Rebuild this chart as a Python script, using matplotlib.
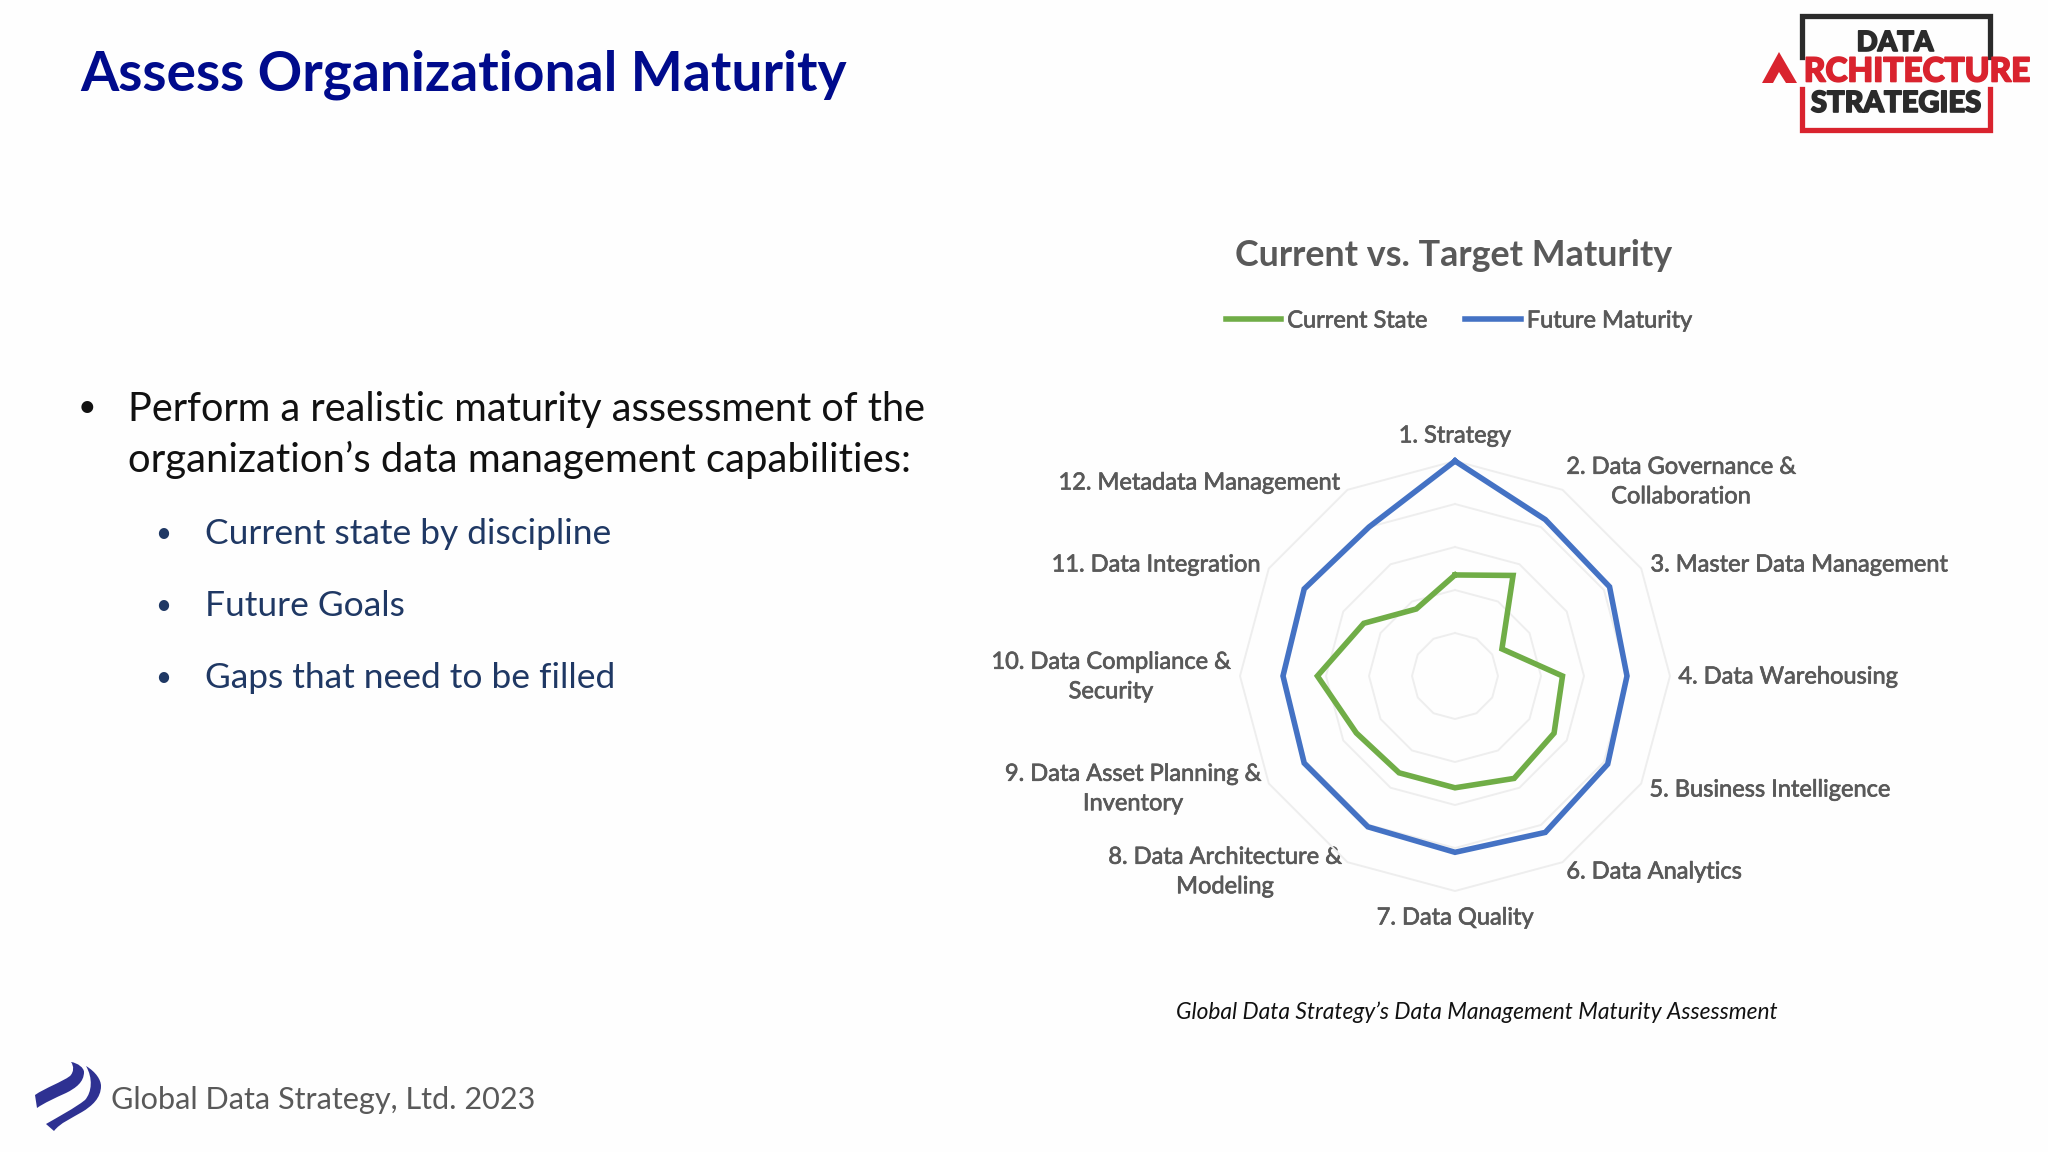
import numpy as np
import matplotlib
matplotlib.use('Agg')
import matplotlib.pyplot as plt
import matplotlib.patheffects as pe
from matplotlib.patches import PathPatch, Polygon
from matplotlib.path import Path

# Chart values
categories = ['1. Strategy', '2. Data Governance &\nCollaboration', '3. Master Data Management',
              '4. Data Warehousing', '5. Business Intelligence', '6. Data Analytics', '7. Data Quality',
              '8. Data Architecture &\nModeling', '9. Data Asset Planning &\nInventory',
              '10. Data Compliance &\nSecurity', '11. Data Integration', '12. Metadata Management']
current_state = [2.35, 2.7, 1.26, 2.5, 2.66, 2.75, 2.6, 2.6, 2.65, 3.2, 2.45, 1.8]
future_maturity = [5.0, 4.2, 4.15, 4.0, 4.1, 4.2, 4.1, 4.05, 4.05, 4.0, 4.05, 4.0]
ring_values = [1, 2, 3, 4, 5]

# Label centres in pixels, same order as categories
label_pos = [(1455, 436), (1681, 482), (1799, 565), (1788, 677), (1770, 790), (1654, 872), (1455, 918),
             (1225, 872), (1133, 789), (1111, 677), (1156, 565), (1199, 483)]

W, H = 2048, 1152
C_X, C_Y = 1455, 676
PX_PER_UNIT = 43
R_MAX = 5.8
GREY = '#595959'

plt.rcParams['font.family'] = ['Lato', 'DejaVu Sans']

fig = plt.figure(figsize=(W / 100, H / 100), dpi=100, facecolor='#fefefe')

# Pixel canvas for the slide itself
bg = fig.add_axes([0, 0, 1, 1])
bg.set_xlim(0, W)
bg.set_ylim(H, 0)
bg.axis('off')

# Radar
half = R_MAX * PX_PER_UNIT
ax = fig.add_axes([(C_X - half) / W, 1 - (C_Y + half) / H, 2 * half / W, 2 * half / H], projection='polar')
ax.set_theta_zero_location('N')
ax.set_theta_direction(-1)
ax.set_ylim(0, R_MAX)
ax.axis('off')
ax.patch.set_alpha(0)

theta = np.linspace(0, 2 * np.pi, len(categories), endpoint=False)
theta_c = np.append(theta, theta[0])
for v in ring_values:
    ax.plot(theta_c, [v] * len(theta_c), color='#eeeeee', lw=1.4, zorder=1)
ax.plot(theta_c, current_state + current_state[:1], color='#70ad47', lw=4, label='Current State', zorder=3,
        solid_joinstyle='miter')
ax.plot(theta_c, future_maturity + future_maturity[:1], color='#4472c4', lw=4, label='Future Maturity', zorder=4,
        solid_joinstyle='miter')

leg = fig.legend(loc='center', bbox_to_anchor=(1459 / W, 1 - 321 / H), ncol=2, frameon=False, fontsize=17,
                 handlelength=2.35, handletextpad=0.25, columnspacing=1.6, labelcolor=GREY)
thick = [pe.withStroke(linewidth=0.5, foreground=GREY)]
for t in leg.get_texts():
    t.set_path_effects(thick)

for name, (x, y) in zip(categories, label_pos):
    bg.text(x, y, name, ha='center', va='center', fontsize=17, color=GREY, linespacing=1.5, path_effects=thick)

bg.text(1454, 256, 'Current vs. Target Maturity', ha='center', va='center', fontsize=25.8, color=GREY, weight='bold')

# Slide text
bg.text(80, 75, 'Assess Organizational Maturity', ha='left', va='center', fontsize=39.7, color='#000b8c', weight='bold')

bg.text(78, 408, '•', ha='left', va='center', fontsize=23, color='#111111')
bg.text(128, 409, 'Perform a realistic maturity assessment of the', ha='left', va='center', fontsize=28.6, color='#111111')
bg.text(128, 460, 'organization’s data management capabilities:', ha='left', va='center', fontsize=28.8, color='#111111')

for y, line in zip([534, 606, 678], ['Current state by discipline', 'Future Goals', 'Gaps that need to be filled']):
    bg.text(155, y, '•', ha='left', va='center', fontsize=20, color='#1f3864')
    bg.text(205, y, line, ha='left', va='center', fontsize=25.5, color='#1f3864')

bg.text(1477, 1012, 'Global Data Strategy’s Data Management Maturity Assessment', ha='center', va='center',
        fontsize=16.4, style='italic', color='#111111')
bg.text(111, 1100, 'Global Data Strategy, Ltd. 2023', ha='left', va='center', fontsize=22.1, color=GREY)

# Footer logo
C4, M, Z = Path.CURVE4, Path.MOVETO, Path.CLOSEPOLY
swoosh_top = Path([(35, 1095), (45, 1088), (62, 1082), (70, 1076), (74, 1072), (74, 1066), (71, 1062),
                   (78, 1063), (84, 1068), (84, 1072), (84, 1082), (76, 1088), (66, 1093),
                   (55, 1098), (44, 1103), (37, 1108), (35, 1095)],
                  [M] + [C4] * 15 + [Z])
swoosh_low = Path([(46, 1124), (58, 1117), (75, 1108), (85, 1100), (92, 1092), (93, 1078), (86, 1066),
                   (96, 1072), (101, 1080), (101, 1086), (101, 1098), (92, 1106), (82, 1112),
                   (72, 1118), (60, 1123), (54, 1131), (46, 1124)],
                  [M] + [C4] * 15 + [Z])
for p in (swoosh_top, swoosh_low):
    bg.add_patch(PathPatch(p, fc='#2e3192', ec='none'))

# Header logo
BLACK, RED = '#2b2b2b', '#d9232e'
bg.plot([1802, 1802, 1990, 1990], [57, 16, 16, 57], color=BLACK, lw=3.8, solid_joinstyle='miter')
bg.plot([1802, 1802, 1990, 1990], [89, 130, 130, 89], color=RED, lw=3.8, solid_joinstyle='miter')
bg.text(1895, 43, 'DATA', ha='center', va='center', fontsize=20, color=BLACK, weight='black',
        path_effects=[pe.withStroke(linewidth=1.2, foreground=BLACK)])
bg.text(1917, 72, 'RCHITECTURE', ha='center', va='center', fontsize=24, color=RED, weight='black',
        path_effects=[pe.withStroke(linewidth=1.2, foreground=RED)])
bg.text(1896, 104, 'STRATEGIES', ha='center', va='center', fontsize=21, color=BLACK, weight='black',
        path_effects=[pe.withStroke(linewidth=1.2, foreground=BLACK)])
bg.add_patch(Polygon([(1762, 83), (1779, 52), (1797, 83), (1786, 83), (1779, 72), (1773, 83)], fc=RED, ec='none'))

fig.savefig('out.png', dpi=100, facecolor=fig.get_facecolor())
